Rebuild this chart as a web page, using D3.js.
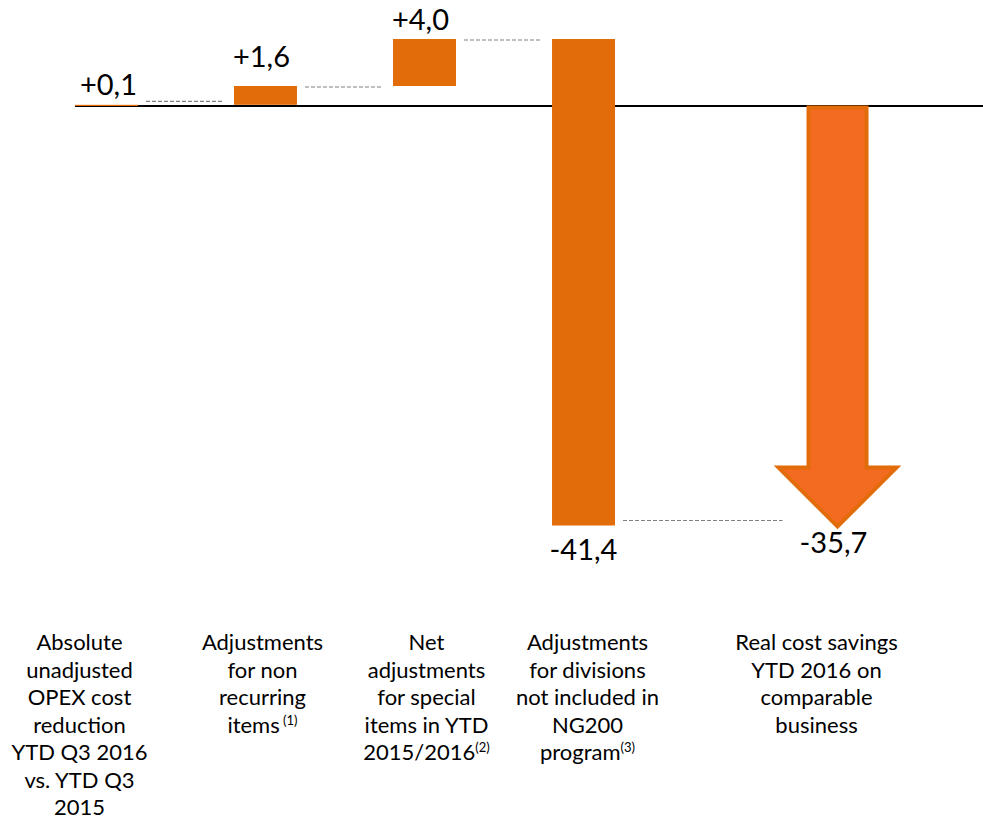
<!DOCTYPE html>
<html>
<head>
<meta charset="utf-8">
<script src="https://cdn.jsdelivr.net/npm/d3@7"></script>
<style>
  body { margin: 0; background: #fff; }
  svg { display: block; font-family: Lato, "Open Sans", sans-serif; }
</style>
</head>
<body>
<svg id="chart" width="983" height="822"></svg>
<script>
// waterfall data
var categories = ["c1", "c2", "c3", "c4", "total"];
var steps = [0.1, 1.6, 4.0, -41.4];
var total = -35.7;
var valueLabels = ["+0,1", "+1,6", "+4,0", "-41,4", "-35,7"];
var catLabels = [
  ["Absolute", "unadjusted", "OPEX cost", "reduction", "YTD Q3 2016", "vs. YTD Q3", "2015"],
  ["Adjustments", "for non", "recurring", "items|(1)"],
  ["Net", "adjustments", "for special", "items in YTD", "2015/2016|(2)"],
  ["Adjustments", "for divisions", "not included in", "NG200", "program|(3)"],
  ["Real cost savings", "YTD 2016 on", "comparable", "business"]
];

var barColor = "#e36c0a", arrowFill = "#f36a21", dashColor = "#808080";
var svg = d3.select("#chart");

var x = d3.scaleBand().domain(categories).range([75, 774]).paddingInner(0.604).paddingOuter(0);
var y = d3.scaleLinear().domain([5.7, -35.7]).range([39, 525.5]);
var arrowShift = 95;
var labelShift = [-27, -3, 2, 4, -21];
var valueDx = [2, -4, -4];
var valueDy = [-10, -19, -9];

// cumulative positions
var bars = [], cum = 0;
steps.forEach(function(v, i) {
  bars.push({ cat: categories[i], start: cum, end: cum + v, label: valueLabels[i] });
  cum += v;
});

// axis line at zero
svg.append("line")
  .attr("x1", x(categories[0])).attr("x2", 983)
  .attr("y1", y(0)).attr("y2", y(0))
  .attr("stroke", "#000").attr("stroke-width", 2);

svg.selectAll("rect.bar").data(bars).enter().append("rect")
  .attr("class", "bar")
  .attr("x", function(d) { return x(d.cat); })
  .attr("width", x.bandwidth())
  .attr("y", function(d) { return y(Math.max(d.start, d.end)); })
  .attr("height", function(d) { return Math.abs(y(d.start) - y(d.end)); })
  .attr("fill", barColor);

// connectors
var arrowCx = x("total") + x.bandwidth() / 2 + arrowShift;
var headHalf = 59, shaftHalf = 29;
svg.selectAll("line.conn").data(bars).enter().append("line")
  .attr("class", "conn")
  .attr("x1", function(d) { return x(d.cat) + x.bandwidth() + 8; })
  .attr("x2", function(d, i) {
    return i < bars.length - 1 ? x(categories[i + 1]) - 12 : arrowCx - headHalf + 4;
  })
  .attr("y1", function(d, i) { return y(d.end) - (i === 0 ? 3.5 : i === 3 ? 5 : -1); })
  .attr("y2", function(d, i) { return y(d.end) - (i === 0 ? 3.5 : i === 3 ? 5 : -1); })
  .attr("stroke", dashColor).attr("stroke-width", 1.2)
  .attr("stroke-dasharray", "4,2");

// total arrow
var headBase = y(total) - 58;
var arrowPts = [
  [arrowCx - shaftHalf, y(0) + 1.5], [arrowCx + shaftHalf, y(0) + 1.5],
  [arrowCx + shaftHalf, headBase], [arrowCx + headHalf, headBase],
  [arrowCx, y(total) + 1], [arrowCx - headHalf, headBase],
  [arrowCx - shaftHalf, headBase]
];
svg.append("path")
  .attr("d", d3.line()(arrowPts) + "Z")
  .attr("fill", arrowFill).attr("stroke", barColor)
  .attr("stroke-width", 4).attr("stroke-linejoin", "miter");

// value labels
svg.selectAll("text.val").data(bars).enter().append("text")
  .attr("class", "val")
  .attr("x", function(d, i) { return x(d.cat) + x.bandwidth() / 2 + (valueDx[i] || 0); })
  .attr("y", function(d, i) {
    return d.end < d.start ? y(d.end) + 34 : y(d.end) + valueDy[i];
  })
  .attr("text-anchor", "middle").attr("font-size", 29).attr("fill", "#000")
  .text(function(d) { return d.label; });
svg.append("text")
  .attr("x", arrowCx - 4).attr("y", y(total) + 27)
  .attr("text-anchor", "middle").attr("font-size", 29)
  .text(valueLabels[4]);

// category labels
catLabels.forEach(function(lines, i) {
  var cx = x(categories[i]) + x.bandwidth() / 2 + labelShift[i] + (i === 4 ? arrowShift : 0);
  var t = svg.append("text").attr("text-anchor", "middle").attr("font-size", 22).attr("fill", "#000");
  lines.forEach(function(line, j) {
    var parts = line.split("|");
    t.append("tspan").attr("x", cx).attr("y", 650 + j * 27.5).text(parts[0]);
    if (parts[1]) {
      t.append("tspan").attr("font-size", 13).attr("dy", -8)
        .text((parts[0].slice(-1) === "s" ? "\u00a0" : "") + parts[1]);
    }
  });
});
</script>
</body>
</html>
